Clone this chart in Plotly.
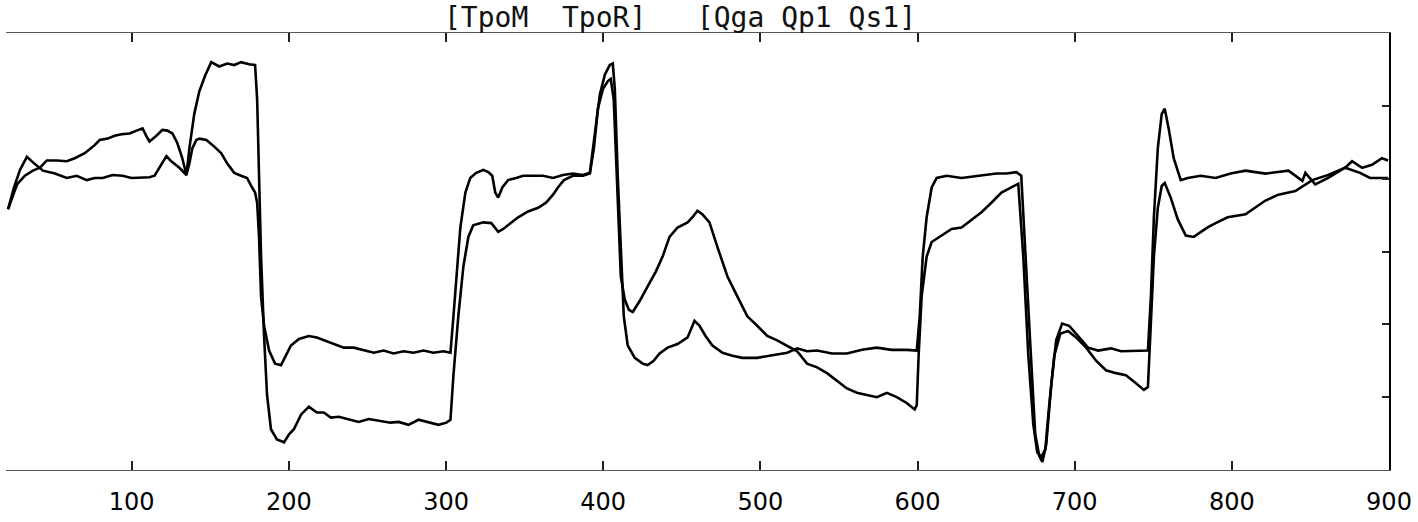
import plotly.graph_objects as go

# Two measured responses (arbitrary units, axis spans 0..6), time on x
t_a = [21.3, 25.1, 28.9, 33.3, 38.4, 43.5, 51.1, 58.7, 65.0, 71.4, 76.4, 81.5, 87.8, 94.2, 99.9,
       105.0, 111.3, 114.5, 117.6, 122.1, 124.6, 127.1, 130.3, 134.8, 136.7, 139.8, 143.0, 146.8,
       150.6, 155.7, 160.7, 165.2, 169.6, 174.7, 178.5, 179.8, 181.0, 182.3, 184.2, 186.1, 188.6,
       192.4, 196.9, 200.1, 203.2, 207.7, 212.7, 217.8, 222.2, 226.7, 231.8, 238.1, 244.4, 250.8,
       257.1, 264.7, 269.8, 276.1, 282.5, 288.8, 295.2, 300.2, 302.8, 304.7, 307.8, 311.0, 314.2,
       317.3, 323.7, 328.8, 333.2, 336.4, 340.8, 345.9, 352.2, 358.6, 363.6, 368.1, 371.2, 375.0,
       380.7, 387.1, 391.5, 394.1, 396.6, 399.8, 403.0, 404.8, 406.7, 409.3, 411.2, 413.7, 416.3,
       418.8, 423.2, 428.3, 433.4, 437.8, 442.2, 447.3, 453.7, 456.8, 460.0, 463.2, 467.6, 472.7,
       479.0, 485.4, 491.7, 498.0, 504.4, 510.7, 517.1, 523.4, 529.7, 536.1, 542.4, 548.8, 555.1,
       561.4, 567.8, 574.1, 580.5, 586.8, 593.1, 598.2, 599.5, 600.7, 602.6, 605.8, 609.0, 615.3,
       621.7, 628.0, 634.3, 640.7, 647.0, 653.4, 659.7, 664.1, 667.3, 670.5, 673.7, 676.2, 678.7,
       681.3, 683.8, 687.0, 690.8, 695.8, 700.9, 707.3, 713.6, 719.9, 726.3, 732.6, 739.0, 744.0,
       746.6, 748.5, 750.4, 752.9, 755.4, 757.3, 761.1, 765.6, 770.7, 775.7, 780.2, 784.6, 789.7,
       797.3, 808.7, 821.4, 829.6, 840.4, 851.2, 861.3, 872.1, 876.5, 882.9, 889.2, 895.5, 899.4]
y_a = [3.58, 3.88, 4.12, 4.30, 4.20, 4.11, 4.07, 4.01, 4.04, 3.98, 4.01, 4.01, 4.05, 4.04, 4.01,
       4.01, 4.02, 4.04, 4.15, 4.31, 4.25, 4.21, 4.15, 4.05, 4.42, 4.89, 5.20, 5.42,
       5.60, 5.54, 5.58, 5.56, 5.60, 5.57, 5.56, 5.09, 4.15, 2.93, 1.84, 1.03, 0.56,
       0.42, 0.38, 0.49, 0.56, 0.76, 0.87, 0.79, 0.79, 0.72, 0.73, 0.69, 0.66, 0.70,
       0.68, 0.65, 0.66, 0.62, 0.69, 0.65, 0.62, 0.65, 0.69, 1.30, 2.11, 2.79, 3.20,
       3.36, 3.40, 3.39, 3.27, 3.31, 3.39, 3.47, 3.55, 3.60, 3.67, 3.78, 3.88, 3.98,
       4.04, 4.04, 4.07, 4.42, 4.96, 5.23, 5.34, 5.37, 5.09, 3.74, 2.66, 2.34, 2.20,
       2.17, 2.32, 2.52, 2.72, 2.93, 3.20, 3.33, 3.40, 3.47, 3.56, 3.51, 3.40, 3.06,
       2.66, 2.38, 2.11, 1.98, 1.84, 1.78, 1.71, 1.63, 1.46, 1.41, 1.33, 1.23, 1.12,
       1.06, 1.03, 1.00, 1.06, 1.00, 0.92, 0.83, 0.89, 1.57, 2.38, 2.93, 3.13, 3.22,
       3.31, 3.33, 3.44, 3.54, 3.67, 3.81, 3.88, 3.93, 2.93, 1.57, 0.62, 0.24, 0.18,
       0.28, 0.89, 1.57, 1.87, 1.91, 1.82, 1.68, 1.50, 1.37, 1.33, 1.30, 1.19, 1.10,
       1.14, 1.98, 2.93, 3.60, 3.90, 3.94, 3.74, 3.44, 3.22, 3.20, 3.27, 3.33, 3.39,
       3.47, 3.51, 3.70, 3.78, 3.83, 3.98, 4.05, 4.15, 4.24, 4.15, 4.19, 4.28, 4.25]

t_b = [21.3, 23.8, 27.0, 32.0, 37.1, 41.6, 46.0, 52.3, 58.7, 63.7, 70.1, 76.4, 79.6, 84.7, 89.1,
       93.5, 98.6, 103.1, 106.9, 109.4, 111.3, 115.7, 119.5, 122.7, 125.9, 129.0, 132.2, 134.8,
       136.7, 138.6, 141.1, 143.0, 147.5, 152.5, 156.9, 160.7, 165.2, 169.6, 173.4, 176.0, 178.5,
       179.8, 181.0, 182.3, 184.2, 187.4, 191.2, 195.0, 198.2, 201.3, 206.4, 212.7, 217.8, 222.9,
       228.6, 234.9, 241.3, 247.6, 254.0, 260.3, 266.6, 273.0, 279.3, 285.6, 292.0, 298.3, 302.8,
       304.7, 306.6, 309.1, 312.3, 315.4, 319.2, 323.7, 326.9, 329.4, 331.3, 333.2, 335.8, 339.5,
       344.6, 349.0, 355.4, 361.7, 368.1, 374.4, 380.7, 387.1, 391.5, 394.7, 397.9, 401.1, 404.2,
       406.1, 407.4, 409.3, 411.2, 413.1, 415.6, 420.1, 425.1, 428.3, 432.1, 435.9, 441.0, 447.3,
       453.7, 458.1, 461.3, 465.1, 469.5, 475.9, 482.2, 488.5, 498.0, 507.5, 517.1, 523.4, 529.7,
       536.1, 545.6, 555.1, 564.6, 574.1, 583.6, 593.1, 599.5, 601.4, 603.3, 605.8, 609.0, 612.2,
       618.5, 628.0, 637.5, 643.9, 650.2, 656.6, 662.9, 666.0, 668.6, 671.8, 674.9, 677.5, 679.4,
       681.9, 685.1, 688.2, 692.0, 696.5, 702.2, 708.5, 714.9, 723.1, 729.5, 739.0, 746.6, 748.5,
       750.4, 752.9, 755.4, 757.3, 759.8, 763.0, 767.5, 771.9, 780.2, 789.7, 799.2, 808.7, 821.4,
       836.0, 844.9, 846.8, 853.1, 861.3, 872.1, 881.6, 887.9, 899.4]
y_b = [3.58, 3.74, 3.92, 4.04, 4.11, 4.15, 4.25, 4.25, 4.24, 4.28, 4.35, 4.46, 4.53, 4.55, 4.59,
       4.61, 4.62, 4.66, 4.69, 4.58, 4.51, 4.59, 4.67, 4.66, 4.62, 4.49, 4.28, 4.05,
       4.21, 4.42, 4.53, 4.55, 4.53, 4.44, 4.35, 4.21, 4.08, 4.04, 4.01, 3.90, 3.81,
       3.67, 3.20, 2.38, 1.98, 1.64, 1.46, 1.44, 1.57, 1.71, 1.80, 1.84, 1.82, 1.78,
       1.73, 1.68, 1.68, 1.64, 1.61, 1.64, 1.60, 1.63, 1.61, 1.64, 1.61, 1.63, 1.61,
       2.11, 2.66, 3.33, 3.81, 4.01, 4.08, 4.12, 4.09, 4.04, 3.81, 3.74, 3.88, 3.98,
       4.01, 4.04, 4.04, 4.04, 4.01, 4.05, 4.07, 4.05, 4.08, 4.62, 5.16, 5.43, 5.56,
       5.58, 5.23, 4.01, 2.93, 2.11, 1.71, 1.54, 1.46, 1.44, 1.50, 1.60, 1.68, 1.73,
       1.82, 2.05, 1.98, 1.84, 1.71, 1.61, 1.57, 1.54, 1.54, 1.57, 1.61, 1.67, 1.63,
       1.64, 1.60, 1.60, 1.65, 1.68, 1.65, 1.65, 1.64, 2.11, 2.93, 3.47, 3.88, 4.01,
       4.04, 4.01, 4.04, 4.05, 4.07, 4.07, 4.09, 4.04, 3.06, 1.71, 0.49, 0.19, 0.11,
       0.35, 1.17, 1.78, 2.01, 1.98, 1.84, 1.68, 1.64, 1.67, 1.63, 1.64, 1.64, 2.38,
       3.47, 4.42, 4.89, 4.96, 4.69, 4.28, 3.98, 4.01, 4.04, 4.01, 4.07, 4.11, 4.07,
       4.11, 3.97, 4.08, 3.92, 4.01, 4.15, 4.08, 4.01, 4.01]

x_ticks = [100, 200, 300, 400, 500, 600, 700, 800, 900]
y_ticks = [1, 2, 3, 4, 5]
title_text = "[TpoM  TpoR]   [Qga Qp1 Qs1]"

fig = go.Figure()
for t, y in ((t_a, y_a), (t_b, y_b)):
    fig.add_trace(go.Scatter(
        x=t, y=y, mode="lines",
        line=dict(color="black", width=2.6),
        showlegend=False, hoverinfo="skip",
    ))

fig.update_layout(
    width=1418, height=522,
    margin=dict(l=6, r=24, t=33, b=46),
    paper_bgcolor="white", plot_bgcolor="white",
    font=dict(family="DejaVu Sans", size=22, color="black"),
)
fig.update_xaxes(
    range=[20, 900], tickvals=x_ticks, ticktext=[str(v) for v in x_ticks],
    tickfont=dict(family="DejaVu Sans", size=24, color="black"),
    showgrid=False, zeroline=False,
    showline=True, linecolor="#555", linewidth=1, mirror="ticks",
    ticks="inside", ticklen=9, tickcolor="#222", tickwidth=1.5,
    ticklabelstandoff=10,
)
fig.update_yaxes(
    range=[0, 6], tickvals=y_ticks, showticklabels=False, side="right",
    showgrid=False, zeroline=False,
    showline=True, linecolor="black", linewidth=1.5,
    ticks="inside", ticklen=7, tickcolor="#222", tickwidth=1.5,
)
fig.add_annotation(
    text=title_text, xref="paper", yref="paper", x=0.3155, y=1,
    xanchor="left", yanchor="bottom", yshift=-3, showarrow=False,
    font=dict(family="DejaVu Sans Mono", size=28, color="#111"),
)

# drop the default page margin so the figure fills the window exactly
fig.write_html(
    "out.html",
    config={"displayModeBar": False},
    post_script="document.body.style.margin='0';document.body.style.overflow='hidden';",
)
